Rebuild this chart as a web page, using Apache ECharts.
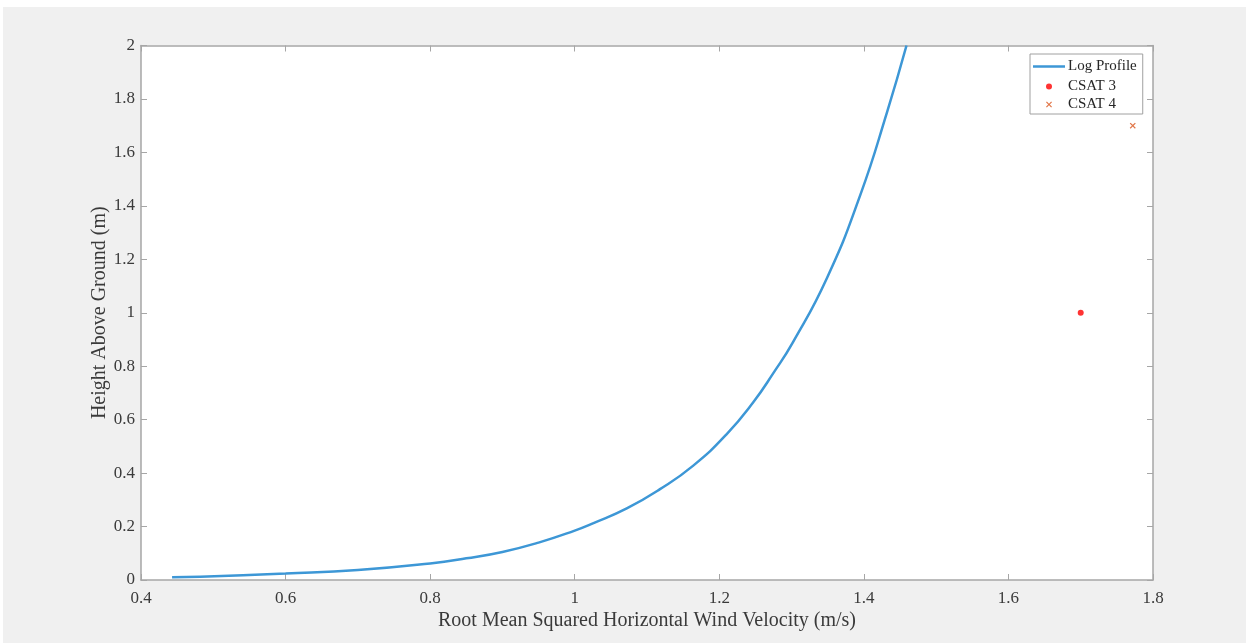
<!DOCTYPE html>
<html>
<head>
<meta charset="utf-8">
<script src="https://cdn.jsdelivr.net/npm/echarts@6/dist/echarts.min.js"></script>
<style>
html,body{margin:0;padding:0;background:#ffffff;width:1246px;height:643px;overflow:hidden;}
#chart{position:absolute;left:3px;top:7px;width:1243px;height:636px;}
</style>
</head>
<body>
<div id="chart"></div>
<script>
// Log profile curve: velocity (m/s) and height (m)
const logVelocity = [0.443, 0.482, 0.60, 0.70, 0.80, 0.85, 0.90, 0.95, 1.00, 1.026, 1.072, 1.118, 1.164, 1.210, 1.247, 1.275, 1.302, 1.349, 1.395, 1.432, 1.459];
const logHeight   = [0.010, 0.012, 0.024, 0.037, 0.062, 0.081, 0.105, 0.140, 0.185, 0.213, 0.268, 0.340, 0.428, 0.545, 0.665, 0.775, 0.890, 1.130, 1.440, 1.750, 2.000];
// Measurements
const csat3Velocity = [1.70];
const csat3Height = [1.00];
const csat4Velocity = [1.772];
const csat4Height = [1.70];
// Axis ticks
const xTicks = [0.4, 0.6, 0.8, 1, 1.2, 1.4, 1.6, 1.8];
const yTicks = [0, 0.2, 0.4, 0.6, 0.8, 1, 1.2, 1.4, 1.6, 1.8, 2];

const pair = (xs, ys) => xs.map((x, i) => [x, ys[i]]);
const font = 'Liberation Serif';
const axisColor = '#a6a6a6';
const textColor = '#3a3a3a';

const crossPath = 'path://M0,1.4L1.4,0L5,3.6L8.6,0L10,1.4L6.4,5L10,8.6L8.6,10L5,6.4L1.4,10L0,8.6L3.6,5Z';

function mkX(pos, showLabels) {
  return {
    type: 'value', position: pos, min: 0.4, max: 1.8, interval: 0.2,
    name: showLabels ? 'Root Mean Squared Horizontal Wind Velocity (m/s)' : '',
    nameLocation: 'middle', nameGap: 31, nameMoveOverlap: false,
    nameTextStyle: {fontFamily: font, fontSize: 20, color: textColor},
    axisLine: {show: true, onZero: false, lineStyle: {color: axisColor, width: 1.5}},
    axisTick: {show: true, inside: true, length: 6, lineStyle: {color: axisColor, width: 1}},
    splitLine: {show: false},
    axisLabel: {show: showLabels, margin: 10, fontFamily: font, fontSize: 17, color: textColor,
      formatter: v => xTicks.includes(+v.toFixed(1)) ? String(+v.toFixed(1)) : ''}
  };
}
function mkY(pos, showLabels) {
  return {
    type: 'value', position: pos, min: 0, max: 2, interval: 0.2,
    name: showLabels ? 'Height Above Ground (m)' : '',
    nameLocation: 'middle', nameGap: 31, nameRotate: 90, nameMoveOverlap: false,
    nameTextStyle: {fontFamily: font, fontSize: 20, color: textColor},
    axisLine: {show: true, onZero: false, lineStyle: {color: axisColor, width: 1.5}},
    axisTick: {show: true, inside: true, length: 6, lineStyle: {color: axisColor, width: 1}},
    splitLine: {show: false},
    axisLabel: {show: showLabels, margin: 6, fontFamily: font, fontSize: 17, color: textColor,
      formatter: v => yTicks.includes(+v.toFixed(1)) ? String(+v.toFixed(1)) : ''}
  };
}

const legendText = {fontFamily: font, fontSize: 15, color: '#262626', padding: [0, 0, 0, -2]};

const chart = echarts.init(document.getElementById('chart'), null, {renderer: 'canvas'});
chart.setOption({
  animation: false,
  backgroundColor: '#f0f0f0',
  grid: {left: 138, top: 38.5, right: 93, bottom: 63, show: true, backgroundColor: '#ffffff', borderWidth: 0},
  xAxis: [mkX('bottom', true), mkX('top', false)],
  yAxis: [mkY('left', true), mkY('right', false)],
  legend: [
    {
      orient: 'vertical', left: 1027, top: 47,
      backgroundColor: '#ffffff', borderColor: '#a0a0a0', borderWidth: 1, borderRadius: 0,
      padding: [5, 6, 40, 3], itemWidth: 32, itemHeight: 14,
      textStyle: legendText,
      data: [{name: 'Log Profile', icon: 'path://M0,0L32,0L32,2.5L0,2.5Z'}]
    },
    {
      orient: 'vertical', left: 1043, top: 72,
      padding: 0, itemWidth: 32, itemHeight: 6, itemGap: 3,
      textStyle: legendText,
      data: ['CSAT 3', 'CSAT 4']
    }
  ],
  series: [
    {
      name: 'Log Profile', type: 'line', xAxisIndex: 0, yAxisIndex: 0,
      data: pair(logVelocity, logHeight), smooth: 0.5,
      showSymbol: false, symbol: 'none',
      lineStyle: {color: '#3d97d6', width: 2.5}, itemStyle: {color: '#3d97d6'}, clip: true
    },
    {
      name: 'CSAT 3', type: 'scatter', xAxisIndex: 0, yAxisIndex: 0,
      data: pair(csat3Velocity, csat3Height), symbol: 'circle', symbolSize: 6,
      itemStyle: {color: '#ff0000'}
    },
    {
      name: 'CSAT 4', type: 'scatter', xAxisIndex: 0, yAxisIndex: 0,
      data: pair(csat4Velocity, csat4Height), symbol: crossPath, symbolSize: 6,
      itemStyle: {color: '#d95319'}
    }
  ]
});
</script>
</body>
</html>
